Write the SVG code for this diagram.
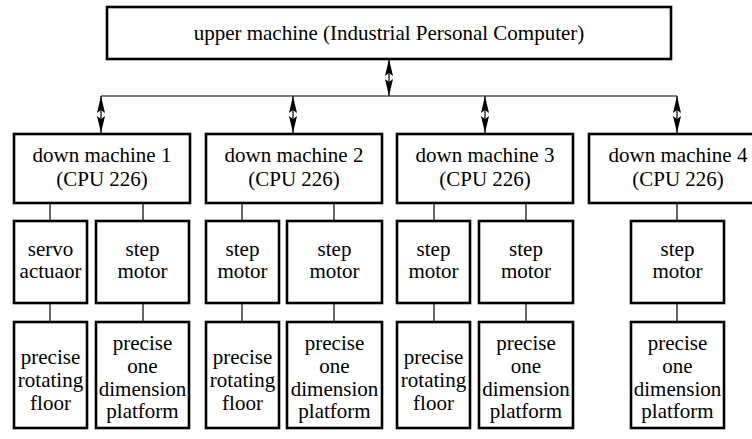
<svg xmlns="http://www.w3.org/2000/svg" width="752" height="439" viewBox="0 0 752 439">
<style>
.box{fill:#fff;stroke:#000;stroke-width:2.6}
.ln{fill:none;stroke:#000;stroke-width:1.2}
.ar{fill:none;stroke:#000;stroke-width:1.2;marker-start:url(#ah);marker-end:url(#ah)}
text{font-family:'Liberation Serif','Times New Roman',Times,'DejaVu Serif',serif;font-size:21px;fill:#000;text-anchor:middle}
</style>
<defs>
<marker id="ah" markerUnits="userSpaceOnUse" markerWidth="17" markerHeight="8" refX="17" refY="4" orient="auto-start-reverse" viewBox="0 0 17 8">
<path d="M0,0 L17,4 L0,8 L3,4 z" fill="#000"/>
</marker>
</defs>
<rect width="752" height="439" fill="#fff"/>
<g id="connectors">
<line class="ar" x1="389" y1="59" x2="389" y2="96"/>
<line class="ln" x1="101" y1="96" x2="677" y2="96"/>
<line class="ar" x1="101" y1="96" x2="101" y2="133"/>
<line class="ar" x1="293" y1="96" x2="293" y2="133"/>
<line class="ar" x1="485" y1="96" x2="485" y2="133"/>
<line class="ar" x1="677" y1="96" x2="677" y2="133"/>
<path class="ln" d="M50,203V221M143,203V221M242,203V221M334,203V221M434,203V221M526,203V221M677,203V221"/>
<path class="ln" d="M50,303V322M143,303V322M242,303V322M334,303V322M434,303V322M526,303V322M677,303V322"/>
</g>
<g id="upper" font-family="Liberation Serif, serif">
<rect class="box" x="107" y="7" width="564" height="52"/>
<text x="389" y="40">upper machine (Industrial Personal Computer)</text>
</g>
<g id="down1">
<rect class="box" x="14" y="134" width="176" height="69"/>
<text x="102" y="162">down machine 1</text><text x="102" y="186">(CPU 226)</text>
</g>
<g id="down2">
<rect class="box" x="206" y="134" width="176" height="69"/>
<text x="294" y="162">down machine 2</text><text x="294" y="186">(CPU 226)</text>
</g>
<g id="down3">
<rect class="box" x="397" y="134" width="176" height="69"/>
<text x="485" y="162">down machine 3</text><text x="485" y="186">(CPU 226)</text>
</g>
<g id="down4">
<rect class="box" x="589" y="134" width="176" height="69"/>
<text x="678" y="162">down machine 4</text><text x="678" y="186">(CPU 226)</text>
</g>
<g id="servo1">
<rect class="box" x="14" y="221" width="73" height="82"/>
<text x="50.5" y="256">servo</text><text x="50.5" y="278">actuaor</text>
</g>
<g id="step1">
<rect class="box" x="96" y="221" width="93" height="82"/>
<text x="142.5" y="256">step</text><text x="142.5" y="278">motor</text>
</g>
<g id="step2a">
<rect class="box" x="206" y="221" width="73" height="82"/>
<text x="242.5" y="256">step</text><text x="242.5" y="278">motor</text>
</g>
<g id="step2b">
<rect class="box" x="287" y="221" width="95" height="82"/>
<text x="334.5" y="256">step</text><text x="334.5" y="278">motor</text>
</g>
<g id="step3a">
<rect class="box" x="397" y="221" width="73" height="82"/>
<text x="433.5" y="256">step</text><text x="433.5" y="278">motor</text>
</g>
<g id="step3b">
<rect class="box" x="479" y="221" width="94" height="82"/>
<text x="526" y="256">step</text><text x="526" y="278">motor</text>
</g>
<g id="step4">
<rect class="box" x="631" y="221" width="93" height="82"/>
<text x="677.5" y="256">step</text><text x="677.5" y="278">motor</text>
</g>
<g id="floor1">
<rect class="box" x="14" y="322" width="73" height="106"/>
<text x="50.5" y="364">precise</text><text x="50.5" y="387">rotating</text><text x="50.5" y="410">floor</text>
</g>
<g id="platform1">
<rect class="box" x="96" y="322" width="93" height="106"/>
<text x="142.5" y="350">precise</text><text x="142.5" y="373">one</text><text x="142.5" y="396">dimension</text><text x="142.5" y="418">platform</text>
</g>
<g id="floor2">
<rect class="box" x="206" y="322" width="73" height="106"/>
<text x="242.5" y="364">precise</text><text x="242.5" y="387">rotating</text><text x="242.5" y="410">floor</text>
</g>
<g id="platform2">
<rect class="box" x="287" y="322" width="95" height="106"/>
<text x="334.5" y="350">precise</text><text x="334.5" y="373">one</text><text x="334.5" y="396">dimension</text><text x="334.5" y="418">platform</text>
</g>
<g id="floor3">
<rect class="box" x="397" y="322" width="73" height="106"/>
<text x="433.5" y="364">precise</text><text x="433.5" y="387">rotating</text><text x="433.5" y="410">floor</text>
</g>
<g id="platform3">
<rect class="box" x="479" y="322" width="94" height="106"/>
<text x="526" y="350">precise</text><text x="526" y="373">one</text><text x="526" y="396">dimension</text><text x="526" y="418">platform</text>
</g>
<g id="platform4">
<rect class="box" x="631" y="322" width="93" height="106"/>
<text x="677.5" y="350">precise</text><text x="677.5" y="373">one</text><text x="677.5" y="396">dimension</text><text x="677.5" y="418">platform</text>
</g>
</svg>
